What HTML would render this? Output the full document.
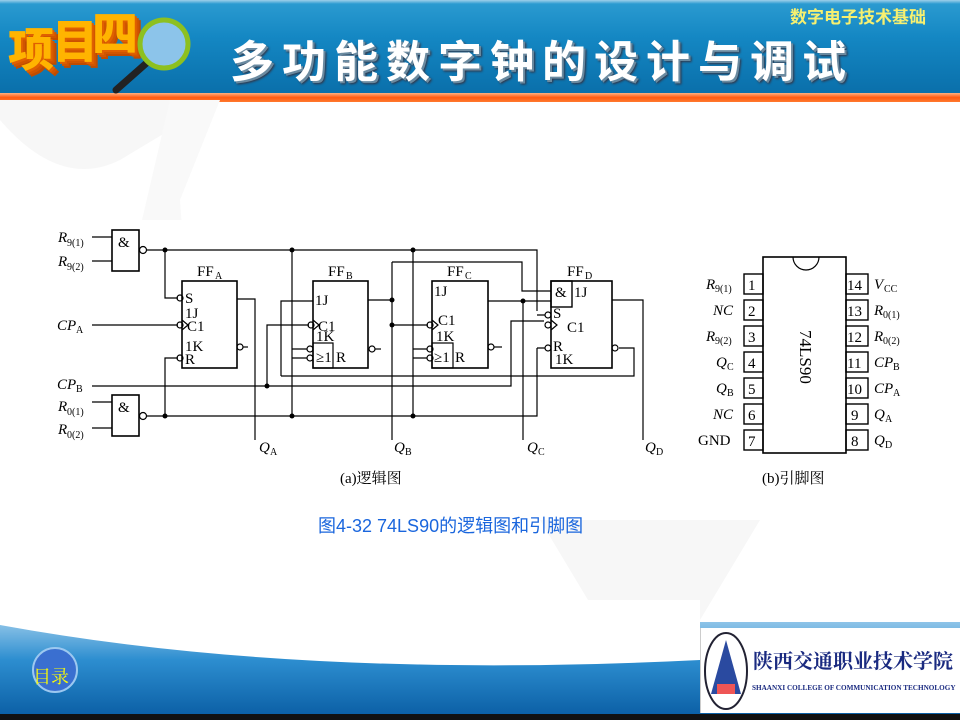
<!DOCTYPE html>
<html><head><meta charset="utf-8">
<style>
html,body{margin:0;padding:0;}
body{width:960px;height:720px;position:relative;overflow:hidden;background:#fff;font-family:"Liberation Sans","Noto Sans CJK SC",sans-serif;}
.hdr{position:absolute;left:0;top:0;width:960px;height:94px;background:linear-gradient(180deg,#9fd0ea 0,#2a9ad0 4px,#1487c3 40%,#0a6faa 100%);}
.stripe{position:absolute;left:0;top:93px;width:960px;height:9px;background:linear-gradient(180deg,#ffb080,#ff5a10 50%,#ff7a30);}
.title{position:absolute;left:230px;top:26px;font-family:"WenQuanYi Zen Hei","Noto Sans CJK SC",sans-serif;font-size:44px;font-weight:bold;color:#fff;letter-spacing:8px;white-space:nowrap;text-shadow:2px 2px 0 #6a8aa0,3px 3px 2px #334;}
.sub{position:absolute;left:790px;top:3px;font-size:17px;font-weight:bold;color:#f6f070;font-family:"Noto Sans CJK SC",sans-serif;}
.xm{position:absolute;font-family:"Noto Sans CJK SC",sans-serif;font-weight:900;font-size:46px;line-height:50px;color:#ffb400;text-shadow:2px 2px 0 #e06000,4px 4px 0 #d05500,6px 6px 0 #c04c00;}
.bot{position:absolute;left:0;top:622px;width:960px;height:94px;background:linear-gradient(180deg,#8ec4e8,#2d8ed0 40%,#0b5fa5);}
.blk{position:absolute;left:0;top:714px;width:960px;height:6px;background:#111;}
.logo{position:absolute;left:700px;top:628px;width:260px;height:85px;background:#fff;border-left:1px solid #ccc;}
.cap{position:absolute;left:318px;top:512px;font-size:18px;color:#1a66dd;font-family:"Liberation Sans","Noto Sans CJK SC",sans-serif;}
svg text{font-family:"Liberation Serif","Noto Serif CJK SC",serif;}
</style></head><body>
<div class="hdr"></div>
<div class="stripe"></div>
<div class="xm" style="left:8px;top:22px">项</div>
<div class="xm" style="left:52px;top:14px">目</div>
<div class="xm" style="left:92px;top:6px">四</div>
<svg style="position:absolute;left:110px;top:14px" width="90" height="80"><line x1="40" y1="46" x2="6" y2="76" stroke="#222" stroke-width="7" stroke-linecap="round"/><circle cx="54" cy="30" r="24" fill="#8cc4ea" stroke="#8dc020" stroke-width="5"/></svg>
<div class="title">多功能数字钟的设计与调试</div>
<div class="sub">数字电子技术基础</div>

<svg style="position:absolute;left:0;top:100px" width="960" height="520">
<path d="M0 20 Q60 90 120 60 L220 0 L0 0Z" fill="#f7f7f7"/>
<path d="M170 0 L220 0 L180 100 L190 240 L150 300 L100 300 Z" fill="#f9f9f9"/>
<path d="M540 420 L760 420 L700 520 L600 520Z" fill="#f7f7f7"/>
</svg>

<svg style="position:absolute;left:0;top:0" width="960" height="720" stroke="#000" stroke-width="1.2" fill="none">
<rect x="55" y="220" width="820" height="270" fill="#fff" stroke="none"/>
<g font-size="15" fill="#000" stroke="none">
<text x="58" y="242" font-style="italic">R</text><text x="67" y="246" font-size="10">9(1)</text>
<text x="58" y="266" font-style="italic">R</text><text x="67" y="270" font-size="10">9(2)</text>
<text x="57" y="330" font-style="italic">CP</text><text x="76" y="333" font-size="10">A</text>
<text x="57" y="389" font-style="italic">CP</text><text x="76" y="392" font-size="10">B</text>
<text x="58" y="411" font-style="italic">R</text><text x="67" y="415" font-size="10">0(1)</text>
<text x="58" y="434" font-style="italic">R</text><text x="67" y="438" font-size="10">0(2)</text>
<text x="118" y="247">&amp;</text><text x="118" y="412">&amp;</text>
<text x="197" y="276">FF</text><text x="215" y="279" font-size="10">A</text>
<text x="328" y="276">FF</text><text x="346" y="279" font-size="10">B</text>
<text x="447" y="276">FF</text><text x="465" y="279" font-size="10">C</text>
<text x="567" y="276">FF</text><text x="585" y="279" font-size="10">D</text>
<text x="185" y="303">S</text><text x="185" y="318">1J</text><text x="187" y="331">C1</text><text x="185" y="351">1K</text><text x="185" y="364">R</text>
<text x="315" y="305">1J</text><text x="318" y="331">C1</text><text x="316" y="341">1K</text><text x="316" y="362">≥1</text><text x="336" y="362">R</text>
<text x="434" y="296">1J</text><text x="438" y="325">C1</text><text x="436" y="341">1K</text><text x="434" y="362">≥1</text><text x="455" y="362">R</text>
<text x="555" y="297">&amp;</text><text x="574" y="297">1J</text><text x="553" y="318">S</text><text x="567" y="332">C1</text><text x="553" y="351">R</text><text x="555" y="364">1K</text>
<text x="259" y="452" font-style="italic">Q</text><text x="270" y="455" font-size="10">A</text>
<text x="394" y="452" font-style="italic">Q</text><text x="405" y="455" font-size="10">B</text>
<text x="527" y="452" font-style="italic">Q</text><text x="538" y="455" font-size="10">C</text>
<text x="645" y="452" font-style="italic">Q</text><text x="656" y="455" font-size="10">D</text>
<text x="340" y="483">(a)逻辑图</text>
<text x="762" y="483">(b)引脚图</text>
</g>
<rect x="112" y="230" width="27" height="41" stroke-width="1.6"/>
<rect x="112" y="395" width="27" height="41" stroke-width="1.6"/>
<circle cx="143" cy="250" r="3.5"/><circle cx="143" cy="416" r="3.5"/>
<path d="M92 237H112M92 261H112M92 402H112M92 428H112"/>
<path d="M147 250H537V311M147 416H537V348"/>
<path d="M165 250V298H178M165 416V358H178M92 325H178"/>
<rect x="182" y="281" width="55" height="87" stroke-width="1.6"/>
<circle cx="180" cy="298" r="3"/><circle cx="180" cy="325" r="3"/><circle cx="180" cy="358" r="3"/>
<path d="M182 320l6 5-6 5"/>
<path d="M237 299H255V440"/><circle cx="240" cy="347" r="3"/><path d="M243 347H248"/>
<path d="M92 386H511V321H544"/>
<path d="M267 386V325H309"/>
<rect x="313" y="281" width="55" height="87" stroke-width="1.6"/>
<rect x="313" y="343" width="20" height="25" stroke-width="1.2"/>
<circle cx="311" cy="325" r="3"/><circle cx="310" cy="349" r="3"/><circle cx="310" cy="358" r="3"/>
<path d="M313 320l6 5-6 5"/>
<path d="M292 250V416M292 349H307M292 358H307"/>
<path d="M281 376V301H313"/>
<path d="M281 376H634V348H619"/>
<circle cx="372" cy="349" r="3"/><path d="M375 349H381"/>
<path d="M368 300H392M392 262V440M392 325H428M392 262H522V291H551"/>
<rect x="432" y="281" width="56" height="87" stroke-width="1.6"/>
<rect x="432" y="343" width="21" height="25" stroke-width="1.2"/>
<circle cx="430" cy="325" r="3"/><circle cx="430" cy="349" r="3"/><circle cx="430" cy="358" r="3"/>
<path d="M432 320l6 5-6 5"/>
<path d="M413 250V416M413 349H427M413 358H427"/>
<circle cx="491" cy="347" r="3"/><path d="M494 347H502"/>
<path d="M488 301H551M523 301V440"/>
<rect x="551" y="281" width="61" height="87" stroke-width="1.6"/>
<rect x="551" y="281" width="21" height="26" stroke-width="1.4"/>
<circle cx="548" cy="315" r="3"/><circle cx="548" cy="325" r="3"/><circle cx="548" cy="348" r="3"/>
<path d="M537 315H545M537 348H545"/>
<path d="M551 320l6 5-6 5"/>
<circle cx="615" cy="348" r="3"/>
<path d="M612 300H643V440"/>
<g fill="#000" stroke="none">
<circle cx="165" cy="250" r="2.5"/><circle cx="292" cy="250" r="2.5"/><circle cx="413" cy="250" r="2.5"/>
<circle cx="165" cy="416" r="2.5"/><circle cx="292" cy="416" r="2.5"/><circle cx="413" cy="416" r="2.5"/>
<circle cx="267" cy="386" r="2.5"/><circle cx="392" cy="300" r="2.5"/><circle cx="392" cy="325" r="2.5"/><circle cx="523" cy="301" r="2.5"/>
</g>
<rect x="763" y="257" width="83" height="196" stroke-width="1.6"/>
<path d="M793 257A13 13 0 0 0 819 257" />
<g stroke-width="1.4">
<rect x="744" y="274" width="19" height="20"/><rect x="744" y="300" width="19" height="20"/><rect x="744" y="326" width="19" height="20"/><rect x="744" y="352" width="19" height="20"/><rect x="744" y="378" width="19" height="20"/><rect x="744" y="404" width="19" height="20"/><rect x="744" y="430" width="19" height="20"/>
<rect x="846" y="274" width="22" height="20"/><rect x="846" y="300" width="22" height="20"/><rect x="846" y="326" width="22" height="20"/><rect x="846" y="352" width="22" height="20"/><rect x="846" y="378" width="22" height="20"/><rect x="846" y="404" width="22" height="20"/><rect x="846" y="430" width="22" height="20"/>
</g>
<g font-size="15" fill="#000" stroke="none">
<text x="748" y="290">1</text><text x="748" y="316">2</text><text x="748" y="342">3</text><text x="748" y="368">4</text><text x="748" y="394">5</text><text x="748" y="420">6</text><text x="748" y="446">7</text>
<text x="847" y="290">14</text><text x="847" y="316">13</text><text x="847" y="342">12</text><text x="847" y="368">11</text><text x="847" y="394">10</text><text x="851" y="420">9</text><text x="851" y="446">8</text>
<text x="706" y="289" font-style="italic">R</text><text x="715" y="292" font-size="10">9(1)</text>
<text x="713" y="315" font-style="italic">NC</text>
<text x="706" y="341" font-style="italic">R</text><text x="715" y="344" font-size="10">9(2)</text>
<text x="716" y="367" font-style="italic">Q</text><text x="727" y="370" font-size="10">C</text>
<text x="716" y="393" font-style="italic">Q</text><text x="727" y="396" font-size="10">B</text>
<text x="713" y="419" font-style="italic">NC</text>
<text x="698" y="445">GND</text>
<text x="874" y="289" font-style="italic">V</text><text x="884" y="292" font-size="10">CC</text>
<text x="874" y="315" font-style="italic">R</text><text x="883" y="318" font-size="10">0(1)</text>
<text x="874" y="341" font-style="italic">R</text><text x="883" y="344" font-size="10">0(2)</text>
<text x="874" y="367" font-style="italic">CP</text><text x="893" y="370" font-size="10">B</text>
<text x="874" y="393" font-style="italic">CP</text><text x="893" y="396" font-size="10">A</text>
<text x="874" y="419" font-style="italic">Q</text><text x="885" y="422" font-size="10">A</text>
<text x="874" y="445" font-style="italic">Q</text><text x="885" y="448" font-size="10">D</text>
<text x="0" y="0" transform="translate(800,330) rotate(90)" font-size="17">74LS90</text>
</g>
</svg>
<div class="cap">图4-32 74LS90的逻辑图和引脚图</div>

<div class="bot"></div>
<svg style="position:absolute;left:0;top:600px" width="960" height="120">
<path d="M0 25 Q300 80 700 60 L700 0 L0 0Z" fill="#fff"/>
<circle cx="55" cy="70" r="22" fill="#3a6fd0" stroke="#9cc8f0" stroke-width="2"/>
<text x="33" y="83" font-size="18" fill="#ff0" font-family="Noto Sans CJK SC,sans-serif">目录</text>
</svg>
<div class="blk"></div>
<div class="logo">
<svg width="260" height="85"><ellipse cx="25" cy="43" rx="21" ry="38" fill="#fff" stroke="#223" stroke-width="2"/><path d="M25 12 L10 66 H40Z" fill="#2a4aa0"/><rect x="16" y="56" width="18" height="10" fill="#e55"/>
<text x="52" y="40" font-size="20" fill="#1a2a80" font-family="Noto Serif CJK SC,serif" font-weight="bold">陕西交通职业技术学院</text>
<text x="51" y="62" font-size="7.2" fill="#1a2a80" font-family="Liberation Serif,serif" font-weight="bold">SHAANXI COLLEGE OF COMMUNICATION TECHNOLOGY</text></svg>
</div>
</body></html>
